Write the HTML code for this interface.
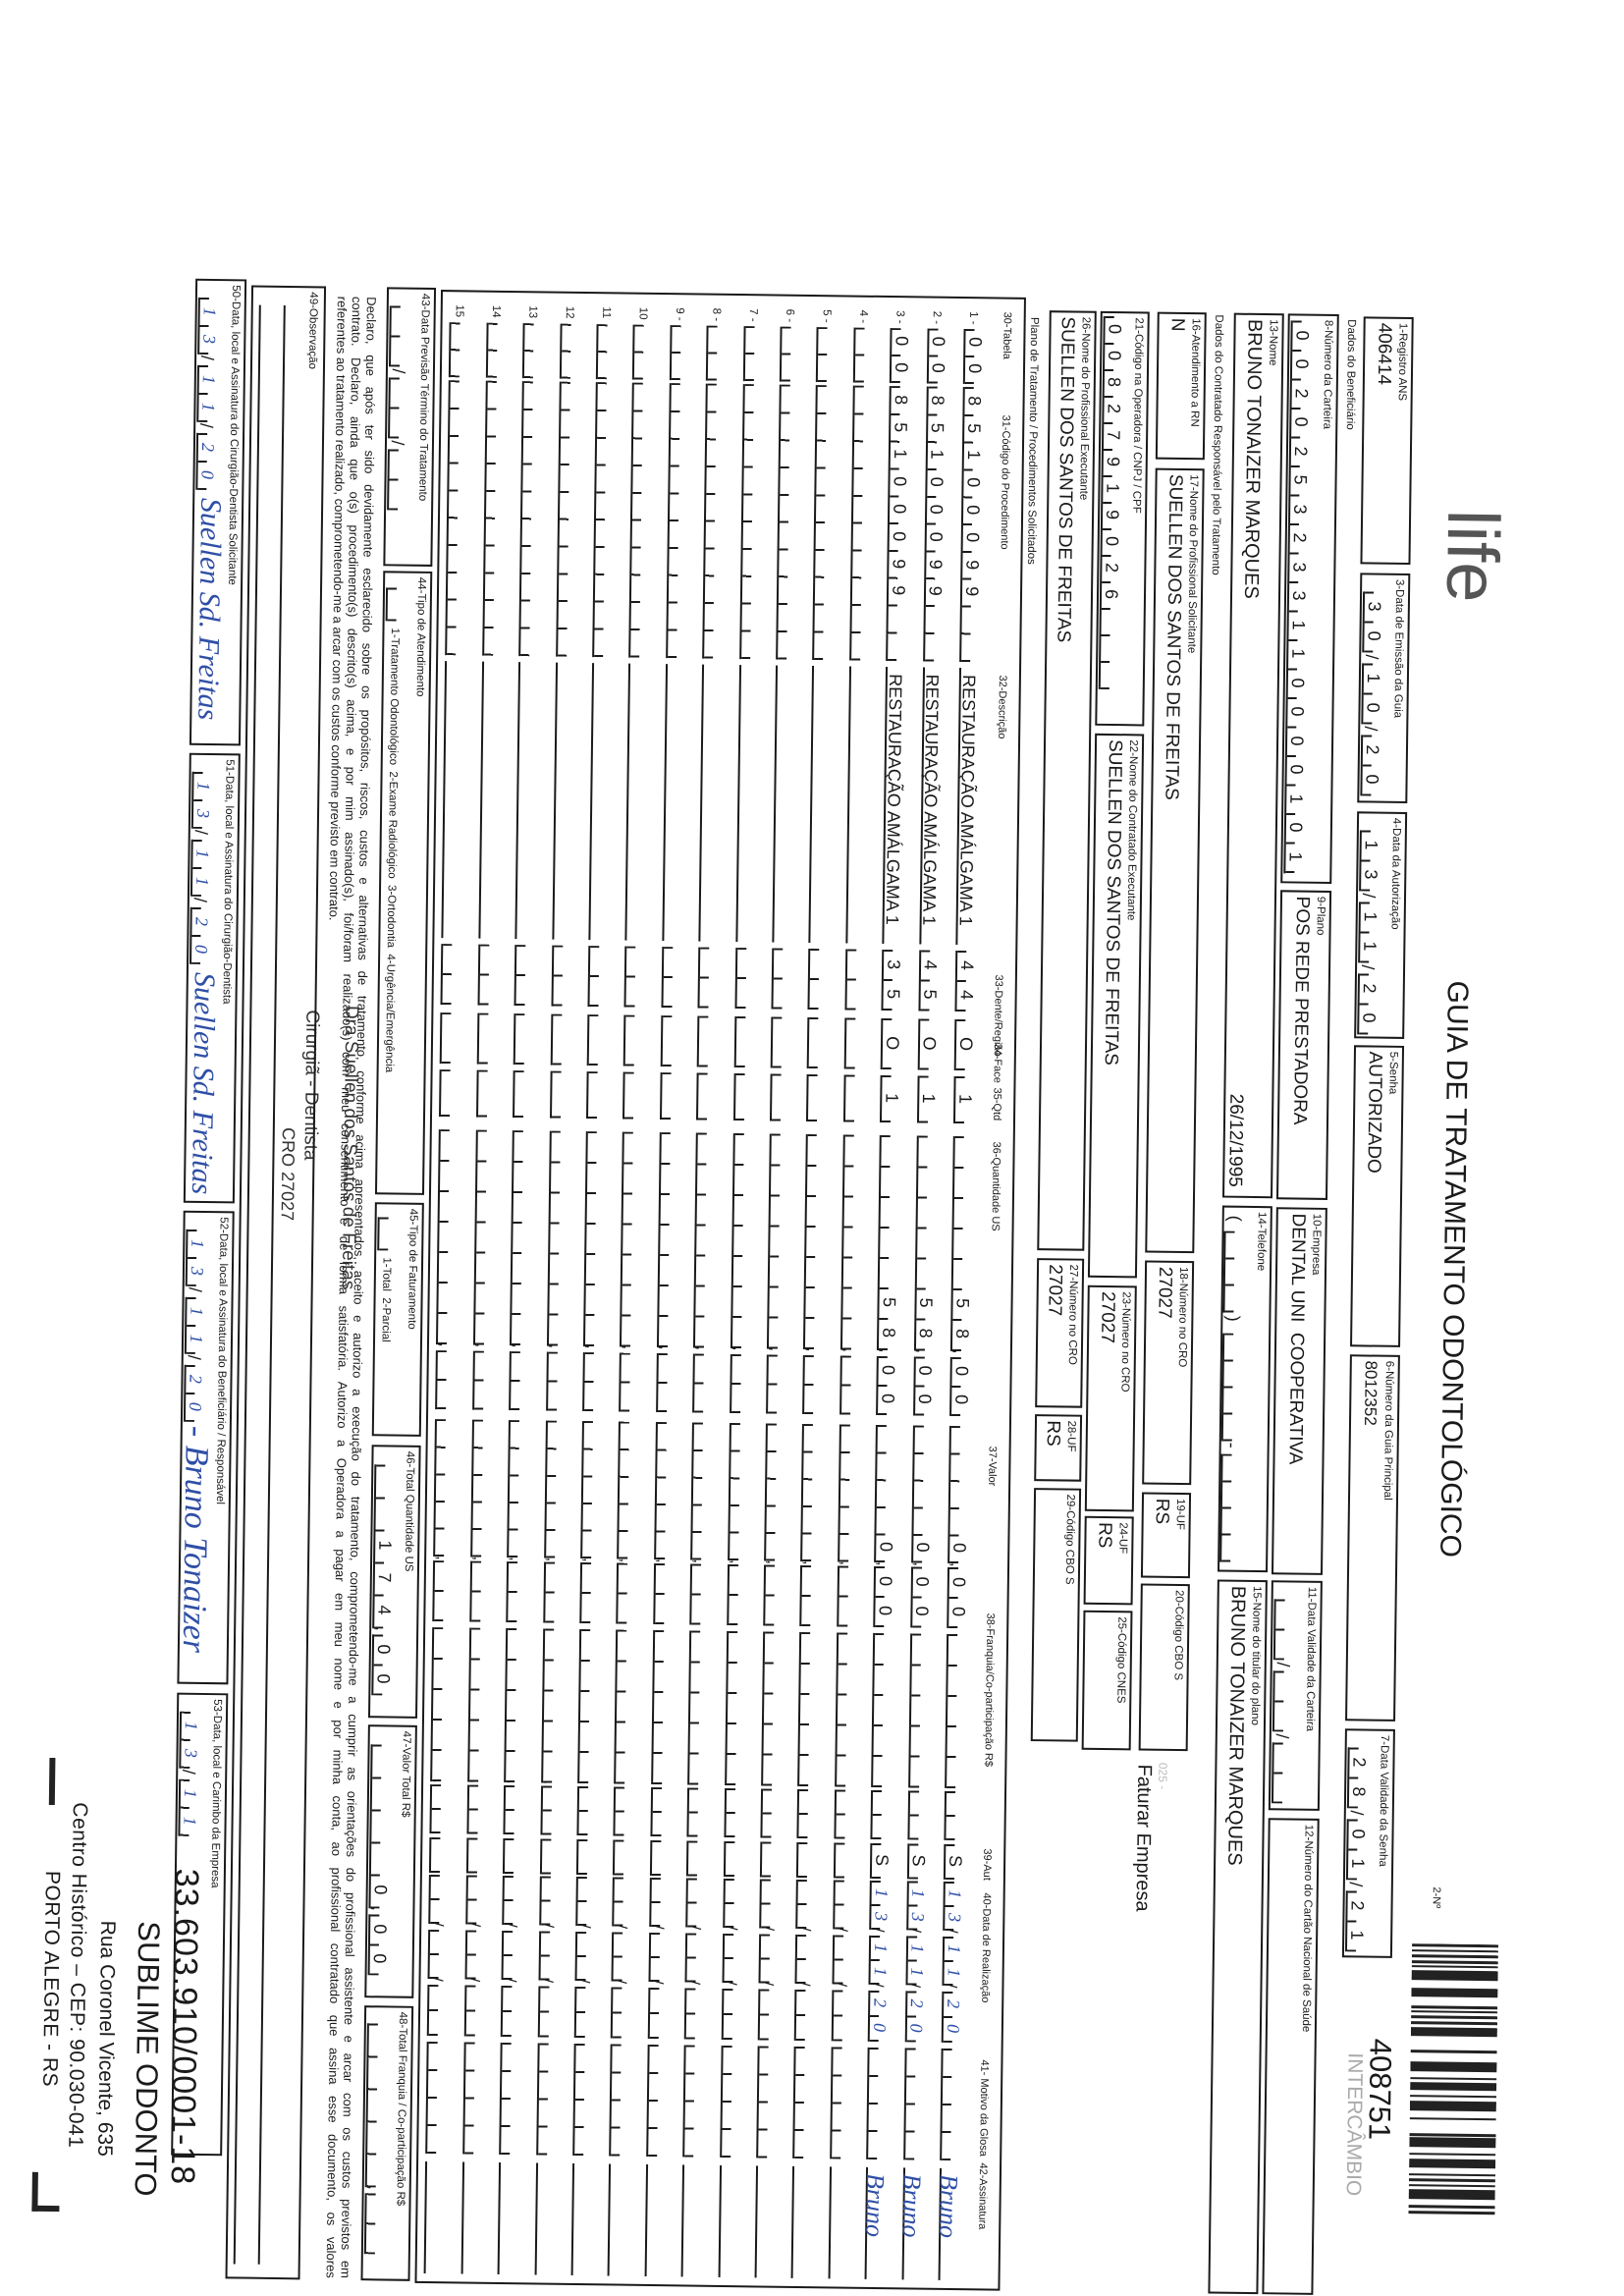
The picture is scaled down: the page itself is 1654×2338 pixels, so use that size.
<!DOCTYPE html>
<html><head><meta charset="utf-8"><style>
html,body{margin:0;padding:0;width:1654px;height:2338px;overflow:hidden;background:#fff}
body{font-family:"Liberation Sans",Arial,sans-serif;color:#1a1a1a}
#clip{position:relative;width:1654px;height:2338px;overflow:hidden;background:#fff}
#w{position:absolute;left:0;top:0;width:1654px;height:2338px;transform:rotate(0.75deg);transform-origin:827px 300px}
.v{position:absolute;writing-mode:vertical-rl;white-space:nowrap;line-height:1}
.b{position:absolute;border:2px solid #1a1a1a;box-sizing:border-box;writing-mode:vertical-rl;padding:4px 2px;white-space:nowrap;overflow:hidden}
.l{font-size:11.5px;line-height:14px}
.val{font-size:19px;line-height:24px}
.nar{font-family:"Liberation Sans Narrow","Liberation Sans",sans-serif}
.cb{position:absolute;width:20px;border-left:2px solid #1a1a1a;writing-mode:horizontal-tb;background:repeating-linear-gradient(to bottom,#1a1a1a 0 2px,transparent 2px var(--c)) 0 0/9px 100% no-repeat;overflow:hidden}
.cb i{display:block;height:var(--c);writing-mode:vertical-rl;text-align:center;font-style:normal;font-size:18px;line-height:20px;width:20px}
.cb i.h,.hw{color:#2f4fa6;font-family:"Liberation Serif",serif;font-style:italic}
.r{position:absolute;top:0;width:22px;height:2330px}
.n{top:315px;left:3px;font-size:11.5px}
.t{top:333px;--c:27px;height:56px}
.k{top:392px;--c:27.8px;height:280px}
.ds{position:absolute;top:678px;height:282px;width:20px;border-left:2px solid #1a1a1a;writing-mode:vertical-rl;font-size:18px;line-height:20px;padding-top:7px;box-sizing:border-box;white-space:nowrap}
.dn{top:966px;--c:30px;height:62px}
.fc{top:1036px;--c:50px;height:52px}
.q{top:1094px;--c:46px;height:48px}
.u1{top:1155px;--c:31px;height:219px}
.u2{top:1380px;--c:29px;height:60px}
.w1{top:1450px;--c:27.6px;height:140px}
.w2{top:1594px;--c:30px;height:62px}
.f1{top:1662px;--c:31px;height:157px}
.f2{top:1822px;--c:24px;height:50px}
.au{top:1876px;--c:34px;height:36px}
.e1{top:1914px;--c:24px;height:50px}
.e2{top:1970px;--c:24px;height:50px}
.e3{top:2026px;--c:25px;height:52px}
.mo{top:2084px;--c:28px;height:114px}
.sg{position:absolute;top:2206px;height:114px;left:0;width:2px;background:#1a1a1a}
.cm{left:0;font-size:16px}
.c1{top:1372px}.c2{top:1589px}.c3{top:1816px}.c4{top:1962px}.c5{top:2018px}
.hd{font-size:11px}
.sl{font-size:18px}
.a{position:absolute}
</style></head><body><div id="clip"><div id="w">

<div class="v" style="left:1466px;top:510px;font-size:74px;color:#555;font-family:'Liberation Sans Narrow','Liberation Sans',sans-serif">life</div>
<div class="v" style="left:1478px;top:990px;font-size:30px">GUIA DE TRATAMENTO ODONTOLÓGICO</div>
<div class="v" style="left:1478px;top:1913px;font-size:11px">2-Nº</div>
<svg style="position:absolute;left:1460px;top:1971px" width="88" height="278"><g fill="#222">
<rect y="0" width="88" height="3"/><rect y="6" width="88" height="2"/><rect y="11" width="88" height="3"/><rect y="17" width="88" height="3"/><rect y="22" width="88" height="2"/><rect y="27" width="88" height="10"/><rect y="45" width="88" height="9"/><rect y="63" width="88" height="3"/><rect y="68" width="88" height="2"/><rect y="73" width="88" height="3"/><rect y="79" width="88" height="3"/><rect y="85" width="88" height="9"/><rect y="108" width="88" height="3"/><rect y="120" width="88" height="10"/><rect y="136" width="88" height="2"/><rect y="141" width="88" height="8"/><rect y="154" width="88" height="2"/><rect y="160" width="88" height="10"/><rect y="177" width="88" height="2"/><rect y="193" width="88" height="3"/><rect y="197" width="88" height="10"/><rect y="213" width="88" height="2"/><rect y="219" width="88" height="9"/><rect y="234" width="88" height="2"/><rect y="239" width="88" height="3"/><rect y="245" width="88" height="2"/><rect y="250" width="88" height="10"/><rect y="266" width="88" height="3"/><rect y="272" width="88" height="3"/></g></svg>
<div class="v" style="left:1414px;top:2068px;font-size:31px">408751</div>
<div class="v" style="left:1393px;top:2083px;font-size:21px;color:#aaa;font-family:'Liberation Sans Narrow','Liberation Sans',sans-serif">INTERCÂMBIO</div>

<div class="b" style="left:1389px;top:315px;width:51px;height:252px"><div class="l">1-Registro ANS</div><div class="val">406414</div></div>
<div class="b" style="left:1389px;top:576px;width:51px;height:234px"><div class="l">3-Data de Emissão da Guia</div></div>
<div class="b" style="left:1389px;top:819px;width:51px;height:231px"><div class="l">4-Data da Autorização</div></div>
<div class="b" style="left:1389px;top:1057px;width:51px;height:307px"><div class="l">5-Senha</div><div class="val">AUTORIZADO</div></div>
<div class="b" style="left:1389px;top:1372px;width:51px;height:373px"><div class="l">6-Número da Guia Principal</div><div class="val" style="font-size:17px">8012352</div></div>
<div class="b" style="left:1389px;top:1753px;width:51px;height:233px"><div class="l">7-Data Validade da Senha</div></div>
<div class="v" style="left:1370px;top:318px;font-size:11.5px">Dados do Beneficiário</div>

<div class="cb" style="left:1392px;top:595px;--c:30px;height:62px"><i>3</i><i>0</i></div><span class="v sl" style="left:1393px;top:659px">/</span>
<div class="cb" style="left:1392px;top:668px;--c:30px;height:62px"><i>1</i><i>0</i></div><span class="v sl" style="left:1393px;top:732px">/</span>
<div class="cb" style="left:1392px;top:741px;--c:30px;height:62px"><i>2</i><i>0</i></div>
<div class="cb" style="left:1392px;top:838px;--c:30px;height:62px"><i>1</i><i>3</i></div><span class="v sl" style="left:1393px;top:902px">/</span>
<div class="cb" style="left:1392px;top:911px;--c:30px;height:62px"><i>1</i><i>1</i></div><span class="v sl" style="left:1393px;top:975px">/</span>
<div class="cb" style="left:1392px;top:984px;--c:30px;height:62px"><i>2</i><i>0</i></div>
<div class="cb" style="left:1392px;top:1772px;--c:30px;height:62px"><i>2</i><i>8</i></div><span class="v sl" style="left:1393px;top:1836px">/</span>
<div class="cb" style="left:1392px;top:1845px;--c:30px;height:62px"><i>0</i><i>1</i></div><span class="v sl" style="left:1393px;top:1909px">/</span>
<div class="cb" style="left:1392px;top:1918px;--c:30px;height:62px"><i>2</i><i>1</i></div>

<div class="b" style="left:1312px;top:313px;width:52px;height:580px"><div class="l">8-Número da Carteira</div></div>
<div class="cb" style="left:1315px;top:320px;--c:29.5px;height:563px"><i>0</i><i>0</i><i>2</i><i>0</i><i>2</i><i>5</i><i>3</i><i>2</i><i>3</i><i>3</i><i>1</i><i>1</i><i>0</i><i>0</i><i>0</i><i>0</i><i>1</i><i>0</i><i>1</i></div>
<div class="b" style="left:1312px;top:900px;width:52px;height:315px"><div class="l">9-Plano</div><div class="val">POS REDE PRESTADORA</div></div>
<div class="b" style="left:1312px;top:1223px;width:52px;height:374px"><div class="l">10-Empresa</div><div class="val">DENTAL UNI&nbsp; COOPERATIVA</div></div>
<div class="b" style="left:1312px;top:1603px;width:52px;height:234px"><div class="l">11-Data Validade da Carteira</div></div>
<div class="cb" style="left:1315px;top:1622px;--c:30px;height:62px"></div><span class="v sl" style="left:1316px;top:1686px">/</span>
<div class="cb" style="left:1315px;top:1695px;--c:30px;height:62px"></div><span class="v sl" style="left:1316px;top:1759px">/</span>
<div class="cb" style="left:1315px;top:1768px;--c:30px;height:62px"></div>
<div class="b" style="left:1312px;top:1845px;width:52px;height:485px"><div class="l">12-Número do Cartão Nacional de Saúde</div></div>

<div class="b" style="left:1257px;top:313px;width:51px;height:901px"><div class="l">13-Nome</div><div class="val nar" style="font-size:20px">BRUNO TONAIZER MARQUES</div></div>
<div class="v" style="left:1260px;top:1108px;font-size:19px">26/12/1995</div>
<div class="b" style="left:1257px;top:1222px;width:51px;height:373px"><div class="l">14-Telefone</div></div>
<span class="v sl" style="left:1261px;top:1232px">(</span>
<div class="cb" style="left:1259px;top:1248px;--c:27px;height:83px"></div><span class="v sl" style="left:1261px;top:1334px">)</span>
<div class="cb" style="left:1259px;top:1352px;--c:27px;height:110px"></div><span class="v sl" style="left:1261px;top:1463px">-</span>
<div class="cb" style="left:1259px;top:1475px;--c:27px;height:110px"></div>
<div class="b" style="left:1257px;top:1603px;width:51px;height:727px"><div class="l">15-Nome do titular do plano</div><div class="val nar" style="font-size:20px">BRUNO TONAIZER MARQUES</div></div>
<div class="v" style="left:1235px;top:315px;font-size:11.5px">Dados do Contratado Responsável pelo Tratamento</div>

<div class="b" style="left:1179px;top:313px;width:50px;height:150px"><div class="l">16-Atendimento a RN</div><div class="val">N</div></div>
<div class="b" style="left:1179px;top:472px;width:50px;height:799px"><div class="l">17-Nome do Profissional Solicitante</div><div class="val">SUELLEN DOS SANTOS DE FREITAS</div></div>
<div class="b" style="left:1179px;top:1279px;width:50px;height:228px"><div class="l">18-Número no CRO</div><div class="val">27027</div></div>
<div class="b" style="left:1179px;top:1515px;width:50px;height:87px"><div class="l">19-UF</div><div class="val">RS</div></div>
<div class="b" style="left:1179px;top:1608px;width:50px;height:170px"><div class="l">20-Código CBO S</div></div>
<div class="v" style="left:1198px;top:1790px;font-size:12px;color:#bbb">025 -</div>
<div class="v" style="left:1175px;top:1792px;font-size:20px">Faturar Empresa</div>

<div class="b" style="left:1121px;top:313px;width:50px;height:422px"><div class="l">21-Código na Operadora / CNPJ / CPF</div></div>
<div class="cb" style="left:1124px;top:318px;--c:27px;height:380px"><i>0</i><i>0</i><i>8</i><i>2</i><i>7</i><i>9</i><i>1</i><i>9</i><i>0</i><i>2</i><i>6</i></div>
<div class="b" style="left:1121px;top:743px;width:50px;height:554px"><div class="l">22-Nome do Contratado Executante</div><div class="val">SUELLEN DOS SANTOS DE FREITAS</div></div>
<div class="b" style="left:1121px;top:1305px;width:50px;height:230px"><div class="l">23-Número no CRO</div><div class="val">27027</div></div>
<div class="b" style="left:1121px;top:1540px;width:50px;height:90px"><div class="l">24-UF</div><div class="val">RS</div></div>
<div class="b" style="left:1121px;top:1636px;width:50px;height:142px"><div class="l">25-Código CNES</div></div>

<div class="b" style="left:1069px;top:313px;width:48px;height:957px"><div class="l">26-Nome do Profissional Executante</div><div class="val">SUELLEN DOS SANTOS DE FREITAS</div></div>
<div class="b" style="left:1069px;top:1278px;width:48px;height:152px"><div class="l">27-Número no CRO</div><div class="val">27027</div></div>
<div class="b" style="left:1069px;top:1437px;width:48px;height:68px"><div class="l">28-UF</div><div class="val">RS</div></div>
<div class="b" style="left:1069px;top:1512px;width:48px;height:258px"><div class="l">29-Código CBO S</div></div>
<div class="v" style="left:1047px;top:320px;font-size:11.5px">Plano de Tratamento / Procedimentos Solicitados</div>

<div style="position:absolute;left:449px;top:300px;width:596px;height:2030px;border:2px solid #1a1a1a;box-sizing:border-box"></div>
<span class="v hd" style="left:1020px;top:315px">30-Tabela</span>
<span class="v hd" style="left:1020px;top:420px">31-Código do Procedimento</span>
<span class="v hd" style="left:1020px;top:685px">32-Descrição</span>
<span class="v hd" style="left:1020px;top:990px">33-Dente/Região</span>
<span class="v hd" style="left:1020px;top:1060px">34-Face</span>
<span class="v hd" style="left:1020px;top:1105px">35-Qtd</span>
<span class="v hd" style="left:1020px;top:1160px">36-Quantidade US</span>
<span class="v hd" style="left:1020px;top:1470px">37-Valor</span>
<span class="v hd" style="left:1020px;top:1640px">38-Franquia/Co-participação R$</span>
<span class="v hd" style="left:1020px;top:1880px">39-Aut</span>
<span class="v hd" style="left:1020px;top:1925px">40-Data de Realização</span>
<span class="v hd" style="left:1020px;top:2095px">41- Motivo da Glosa</span>
<span class="v hd" style="left:1020px;top:2200px">42-Assinatura</span>

<div class="r" style="left:982px"><span class="v n">1 -</span>
<div class="cb t"><i>0</i><i>0</i></div><div class="cb k"><i>8</i><i>5</i><i>1</i><i>0</i><i>0</i><i>0</i><i>9</i><i>9</i></div>
<div class="ds">RESTAURAÇÃO AMÁLGAMA 1</div>
<div class="cb dn"><i>4</i><i>4</i></div><div class="cb fc"><i>O</i></div><div class="cb q"><i>1</i></div>
<div class="cb u1"><i></i><i></i><i></i><i></i><i></i><i>5</i><i>8</i></div><span class="v cm c1">,</span><div class="cb u2"><i>0</i><i>0</i></div>
<div class="cb w1"><i></i><i></i><i></i><i></i><i>0</i></div><span class="v cm c2">,</span><div class="cb w2"><i>0</i><i>0</i></div>
<div class="cb f1"></div><span class="v cm c3">,</span><div class="cb f2"></div>
<div class="cb au"><i>S</i></div>
<div class="cb e1"><i class="h">1</i><i class="h">3</i></div><span class="v cm c4">/</span><div class="cb e2"><i class="h">1</i><i class="h">1</i></div><span class="v cm c5">/</span><div class="cb e3"><i class="h">2</i><i class="h">0</i></div>
<div class="cb mo"></div><div class="sg"></div><span class="v hw" style="top:2212px;left:-4px;font-size:26px">Bruno</span></div>

<div class="r" style="left:944.6px"><span class="v n">2 -</span>
<div class="cb t"><i>0</i><i>0</i></div><div class="cb k"><i>8</i><i>5</i><i>1</i><i>0</i><i>0</i><i>0</i><i>9</i><i>9</i></div>
<div class="ds">RESTAURAÇÃO AMÁLGAMA 1</div>
<div class="cb dn"><i>4</i><i>5</i></div><div class="cb fc"><i>O</i></div><div class="cb q"><i>1</i></div>
<div class="cb u1"><i></i><i></i><i></i><i></i><i></i><i>5</i><i>8</i></div><span class="v cm c1">,</span><div class="cb u2"><i>0</i><i>0</i></div>
<div class="cb w1"><i></i><i></i><i></i><i></i><i>0</i></div><span class="v cm c2">,</span><div class="cb w2"><i>0</i><i>0</i></div>
<div class="cb f1"></div><span class="v cm c3">,</span><div class="cb f2"></div>
<div class="cb au"><i>S</i></div>
<div class="cb e1"><i class="h">1</i><i class="h">3</i></div><span class="v cm c4">/</span><div class="cb e2"><i class="h">1</i><i class="h">1</i></div><span class="v cm c5">/</span><div class="cb e3"><i class="h">2</i><i class="h">0</i></div>
<div class="cb mo"></div><div class="sg"></div><span class="v hw" style="top:2212px;left:-4px;font-size:26px">Bruno</span></div>

<div class="r" style="left:907.2px"><span class="v n">3 -</span>
<div class="cb t"><i>0</i><i>0</i></div><div class="cb k"><i>8</i><i>5</i><i>1</i><i>0</i><i>0</i><i>0</i><i>9</i><i>9</i></div>
<div class="ds">RESTAURAÇÃO AMÁLGAMA 1</div>
<div class="cb dn"><i>3</i><i>5</i></div><div class="cb fc"><i>O</i></div><div class="cb q"><i>1</i></div>
<div class="cb u1"><i></i><i></i><i></i><i></i><i></i><i>5</i><i>8</i></div><span class="v cm c1">,</span><div class="cb u2"><i>0</i><i>0</i></div>
<div class="cb w1"><i></i><i></i><i></i><i></i><i>0</i></div><span class="v cm c2">,</span><div class="cb w2"><i>0</i><i>0</i></div>
<div class="cb f1"></div><span class="v cm c3">,</span><div class="cb f2"></div>
<div class="cb au"><i>S</i></div>
<div class="cb e1"><i class="h">1</i><i class="h">3</i></div><span class="v cm c4">/</span><div class="cb e2"><i class="h">1</i><i class="h">1</i></div><span class="v cm c5">/</span><div class="cb e3"><i class="h">2</i><i class="h">0</i></div>
<div class="cb mo"></div><div class="sg"></div><span class="v hw" style="top:2212px;left:-4px;font-size:26px">Bruno</span></div>

<div class="r" style="left:869.8px"><span class="v n">4 -</span><div class="cb t"></div><div class="cb k"></div><div class="ds"></div><div class="cb dn"></div><div class="cb fc"></div><div class="cb q"></div><div class="cb u1"></div><span class="v cm c1">,</span><div class="cb u2"></div><div class="cb w1"></div><span class="v cm c2">,</span><div class="cb w2"></div><div class="cb f1"></div><span class="v cm c3">,</span><div class="cb f2"></div><div class="cb au"></div><div class="cb e1"></div><span class="v cm c4">/</span><div class="cb e2"></div><span class="v cm c5">/</span><div class="cb e3"></div><div class="cb mo"></div><div class="sg"></div></div>
<div class="r" style="left:832.4px"><span class="v n">5 -</span><div class="cb t"></div><div class="cb k"></div><div class="ds"></div><div class="cb dn"></div><div class="cb fc"></div><div class="cb q"></div><div class="cb u1"></div><span class="v cm c1">,</span><div class="cb u2"></div><div class="cb w1"></div><span class="v cm c2">,</span><div class="cb w2"></div><div class="cb f1"></div><span class="v cm c3">,</span><div class="cb f2"></div><div class="cb au"></div><div class="cb e1"></div><span class="v cm c4">/</span><div class="cb e2"></div><span class="v cm c5">/</span><div class="cb e3"></div><div class="cb mo"></div><div class="sg"></div></div>
<div class="r" style="left:795px"><span class="v n">6 -</span><div class="cb t"></div><div class="cb k"></div><div class="ds"></div><div class="cb dn"></div><div class="cb fc"></div><div class="cb q"></div><div class="cb u1"></div><span class="v cm c1">,</span><div class="cb u2"></div><div class="cb w1"></div><span class="v cm c2">,</span><div class="cb w2"></div><div class="cb f1"></div><span class="v cm c3">,</span><div class="cb f2"></div><div class="cb au"></div><div class="cb e1"></div><span class="v cm c4">/</span><div class="cb e2"></div><span class="v cm c5">/</span><div class="cb e3"></div><div class="cb mo"></div><div class="sg"></div></div>
<div class="r" style="left:757.6px"><span class="v n">7 -</span><div class="cb t"></div><div class="cb k"></div><div class="ds"></div><div class="cb dn"></div><div class="cb fc"></div><div class="cb q"></div><div class="cb u1"></div><span class="v cm c1">,</span><div class="cb u2"></div><div class="cb w1"></div><span class="v cm c2">,</span><div class="cb w2"></div><div class="cb f1"></div><span class="v cm c3">,</span><div class="cb f2"></div><div class="cb au"></div><div class="cb e1"></div><span class="v cm c4">/</span><div class="cb e2"></div><span class="v cm c5">/</span><div class="cb e3"></div><div class="cb mo"></div><div class="sg"></div></div>
<div class="r" style="left:720.2px"><span class="v n">8 -</span><div class="cb t"></div><div class="cb k"></div><div class="ds"></div><div class="cb dn"></div><div class="cb fc"></div><div class="cb q"></div><div class="cb u1"></div><span class="v cm c1">,</span><div class="cb u2"></div><div class="cb w1"></div><span class="v cm c2">,</span><div class="cb w2"></div><div class="cb f1"></div><span class="v cm c3">,</span><div class="cb f2"></div><div class="cb au"></div><div class="cb e1"></div><span class="v cm c4">/</span><div class="cb e2"></div><span class="v cm c5">/</span><div class="cb e3"></div><div class="cb mo"></div><div class="sg"></div></div>
<div class="r" style="left:682.8px"><span class="v n">9 -</span><div class="cb t"></div><div class="cb k"></div><div class="ds"></div><div class="cb dn"></div><div class="cb fc"></div><div class="cb q"></div><div class="cb u1"></div><span class="v cm c1">,</span><div class="cb u2"></div><div class="cb w1"></div><span class="v cm c2">,</span><div class="cb w2"></div><div class="cb f1"></div><span class="v cm c3">,</span><div class="cb f2"></div><div class="cb au"></div><div class="cb e1"></div><span class="v cm c4">/</span><div class="cb e2"></div><span class="v cm c5">/</span><div class="cb e3"></div><div class="cb mo"></div><div class="sg"></div></div>
<div class="r" style="left:645.4px"><span class="v n">10</span><div class="cb t"></div><div class="cb k"></div><div class="ds"></div><div class="cb dn"></div><div class="cb fc"></div><div class="cb q"></div><div class="cb u1"></div><span class="v cm c1">,</span><div class="cb u2"></div><div class="cb w1"></div><span class="v cm c2">,</span><div class="cb w2"></div><div class="cb f1"></div><span class="v cm c3">,</span><div class="cb f2"></div><div class="cb au"></div><div class="cb e1"></div><span class="v cm c4">/</span><div class="cb e2"></div><span class="v cm c5">/</span><div class="cb e3"></div><div class="cb mo"></div><div class="sg"></div></div>
<div class="r" style="left:608px"><span class="v n">11</span><div class="cb t"></div><div class="cb k"></div><div class="ds"></div><div class="cb dn"></div><div class="cb fc"></div><div class="cb q"></div><div class="cb u1"></div><span class="v cm c1">,</span><div class="cb u2"></div><div class="cb w1"></div><span class="v cm c2">,</span><div class="cb w2"></div><div class="cb f1"></div><span class="v cm c3">,</span><div class="cb f2"></div><div class="cb au"></div><div class="cb e1"></div><span class="v cm c4">/</span><div class="cb e2"></div><span class="v cm c5">/</span><div class="cb e3"></div><div class="cb mo"></div><div class="sg"></div></div>
<div class="r" style="left:570.6px"><span class="v n">12</span><div class="cb t"></div><div class="cb k"></div><div class="ds"></div><div class="cb dn"></div><div class="cb fc"></div><div class="cb q"></div><div class="cb u1"></div><span class="v cm c1">,</span><div class="cb u2"></div><div class="cb w1"></div><span class="v cm c2">,</span><div class="cb w2"></div><div class="cb f1"></div><span class="v cm c3">,</span><div class="cb f2"></div><div class="cb au"></div><div class="cb e1"></div><span class="v cm c4">/</span><div class="cb e2"></div><span class="v cm c5">/</span><div class="cb e3"></div><div class="cb mo"></div><div class="sg"></div></div>
<div class="r" style="left:533.2px"><span class="v n">13</span><div class="cb t"></div><div class="cb k"></div><div class="ds"></div><div class="cb dn"></div><div class="cb fc"></div><div class="cb q"></div><div class="cb u1"></div><span class="v cm c1">,</span><div class="cb u2"></div><div class="cb w1"></div><span class="v cm c2">,</span><div class="cb w2"></div><div class="cb f1"></div><span class="v cm c3">,</span><div class="cb f2"></div><div class="cb au"></div><div class="cb e1"></div><span class="v cm c4">/</span><div class="cb e2"></div><span class="v cm c5">/</span><div class="cb e3"></div><div class="cb mo"></div><div class="sg"></div></div>
<div class="r" style="left:495.8px"><span class="v n">14</span><div class="cb t"></div><div class="cb k"></div><div class="ds"></div><div class="cb dn"></div><div class="cb fc"></div><div class="cb q"></div><div class="cb u1"></div><span class="v cm c1">,</span><div class="cb u2"></div><div class="cb w1"></div><span class="v cm c2">,</span><div class="cb w2"></div><div class="cb f1"></div><span class="v cm c3">,</span><div class="cb f2"></div><div class="cb au"></div><div class="cb e1"></div><span class="v cm c4">/</span><div class="cb e2"></div><span class="v cm c5">/</span><div class="cb e3"></div><div class="cb mo"></div><div class="sg"></div></div>
<div class="r" style="left:458.4px"><span class="v n">15</span><div class="cb t"></div><div class="cb k"></div><div class="ds"></div><div class="cb dn"></div><div class="cb fc"></div><div class="cb q"></div><div class="cb u1"></div><span class="v cm c1">,</span><div class="cb u2"></div><div class="cb w1"></div><span class="v cm c2">,</span><div class="cb w2"></div><div class="cb f1"></div><span class="v cm c3">,</span><div class="cb f2"></div><div class="cb au"></div><div class="cb e1"></div><span class="v cm c4">/</span><div class="cb e2"></div><span class="v cm c5">/</span><div class="cb e3"></div><div class="cb mo"></div><div class="sg"></div></div>

<div class="b" style="left:394px;top:298px;width:50px;height:284px"><div class="l">43-Data Previsão Término do Tratamento</div></div>
<div class="cb" style="left:397px;top:317px;--c:30px;height:62px"></div><span class="v sl" style="left:398px;top:381px">/</span>
<div class="cb" style="left:397px;top:390px;--c:30px;height:62px"></div><span class="v sl" style="left:398px;top:454px">/</span>
<div class="cb" style="left:397px;top:463px;--c:30px;height:62px"></div>
<div class="b" style="left:394px;top:587px;width:50px;height:635px"><div class="l">44-Tipo de Atendimento</div></div>
<div class="cb" style="left:397px;top:604px;--c:32px;height:34px"></div>
<div class="v" style="left:400px;top:645px;font-size:11.5px">1-Tratamento Odontológico&nbsp; 2-Exame Radiológico&nbsp; 3-Ortodontia&nbsp; 4-Urgência/Emergência</div>
<div class="b" style="left:394px;top:1230px;width:50px;height:238px"><div class="l">45-Tipo de Faturamento</div></div>
<div class="cb" style="left:397px;top:1245px;--c:32px;height:34px"></div>
<div class="v" style="left:400px;top:1286px;font-size:11.5px">1-Total&nbsp; 2-Parcial</div>
<div class="b" style="left:394px;top:1477px;width:50px;height:278px"><div class="l">46-Total Quantidade US</div></div>
<div class="cb" style="left:397px;top:1497px;--c:33px;height:167px"><i></i><i></i><i>1</i><i>7</i><i>4</i></div><span class="v cm" style="left:397px;top:1662px">,</span>
<div class="cb" style="left:397px;top:1670px;--c:30px;height:62px"><i>0</i><i>0</i></div>
<div class="b" style="left:394px;top:1762px;width:50px;height:278px"><div class="l">47-Valor Total R$</div></div>
<div class="cb" style="left:397px;top:1782px;--c:33px;height:167px"><i></i><i></i><i></i><i></i><i>0</i></div><span class="v cm" style="left:397px;top:1947px">,</span>
<div class="cb" style="left:397px;top:1955px;--c:30px;height:62px"><i>0</i><i>0</i></div>
<div class="b" style="left:394px;top:2048px;width:50px;height:280px"><div class="l">48-Total Franquia / Co-participação R$</div></div>
<div class="cb" style="left:397px;top:2066px;--c:33px;height:167px"></div><span class="v cm" style="left:397px;top:2231px">,</span>
<div class="cb" style="left:397px;top:2239px;--c:30px;height:62px"></div>

<div class="v" style="left:371px;top:308px;height:2018px;font-size:13px;line-height:14px;text-align:justify;text-align-last:justify">Declaro, que após ter sido devidamente esclarecido sobre os propósitos, riscos, custos e alternativas de tratamento, conforme acima apresentados, aceito e autorizo a execução do tratamento, comprometendo-me a cumprir as orientações do profissional assistente e arcar com os custos previstos em</div>
<div class="v" style="left:356px;top:308px;height:2018px;font-size:13px;line-height:14px;text-align:justify;text-align-last:justify">contrato. Declaro, ainda que o(s) procedimento(s) descrito(s) acima, e por mim assinado(s), foi/foram realizado(s) com meu consentimento e de forma satisfatória. Autorizo a Operadora a pagar em meu nome e por minha conta, ao profissional contratado que assina esse documento, os valores</div>
<div class="v" style="left:341px;top:308px;font-size:13px;line-height:14px">referentes ao tratamento realizado, comprometendo-me a arcar com os custos conforme previsto em contrato.</div>

<div class="v" style="left:358px;top:1030px;font-size:19px;color:#333;font-family:'Liberation Sans Narrow','Liberation Sans',sans-serif">Dra Suellen dos Santos de Freitas</div>
<div class="v" style="left:318px;top:1035px;font-size:19px;color:#333;font-family:'Liberation Sans Narrow','Liberation Sans',sans-serif">Cirurgiã - Dentista</div>
<div class="v" style="left:296px;top:1155px;font-size:18px;color:#333;font-family:'Liberation Sans Narrow','Liberation Sans',sans-serif">CRO 27027</div>

<div class="b" style="left:256px;top:298px;width:76px;height:2030px"><div class="l" style="padding-right:2px">49-Observação</div></div>
<div class="a" style="left:264px;top:318px;width:2px;height:1995px;background:#1a1a1a"></div>
<div class="a" style="left:289px;top:318px;width:2px;height:1995px;background:#1a1a1a"></div>

<div class="b" style="left:199px;top:292px;width:52px;height:475px"><div class="l">50-Data, local e Assinatura do Cirurgião-Dentista Solicitante</div></div>
<div class="b" style="left:199px;top:775px;width:52px;height:458px"><div class="l">51-Data, local e Assinatura do Cirurgião-Dentista</div></div>
<div class="b" style="left:199px;top:1241px;width:52px;height:482px"><div class="l">52-Data, local e Assinatura do Beneficiário / Responsável</div></div>
<div class="b" style="left:199px;top:1732px;width:52px;height:471px"><div class="l">53-Data, local e Carimbo da Empresa</div></div>

<div class="cb" style="left:202px;top:311px;--c:28px;height:58px"><i class="h">1</i><i class="h">3</i></div><span class="v sl" style="left:203px;top:370px">/</span>
<div class="cb" style="left:202px;top:380px;--c:28px;height:58px"><i class="h">1</i><i class="h">1</i></div><span class="v sl" style="left:203px;top:439px">/</span>
<div class="cb" style="left:202px;top:449px;--c:28px;height:58px"><i class="h">2</i><i class="h">0</i></div>
<div class="v hw" style="left:202px;top:515px;font-size:30px">Suellen Sd. Freitas</div>

<div class="cb" style="left:202px;top:794px;--c:28px;height:58px"><i class="h">1</i><i class="h">3</i></div><span class="v sl" style="left:203px;top:853px">/</span>
<div class="cb" style="left:202px;top:863px;--c:28px;height:58px"><i class="h">1</i><i class="h">1</i></div><span class="v sl" style="left:203px;top:922px">/</span>
<div class="cb" style="left:202px;top:932px;--c:28px;height:58px"><i class="h">2</i><i class="h">0</i></div>
<div class="v hw" style="left:202px;top:998px;font-size:30px">Suellen Sd. Freitas</div>

<div class="cb" style="left:202px;top:1260px;--c:28px;height:58px"><i class="h">1</i><i class="h">3</i></div><span class="v sl" style="left:203px;top:1319px">/</span>
<div class="cb" style="left:202px;top:1329px;--c:28px;height:58px"><i class="h">1</i><i class="h">1</i></div><span class="v sl" style="left:203px;top:1388px">/</span>
<div class="cb" style="left:202px;top:1398px;--c:28px;height:58px"><i class="h">2</i><i class="h">0</i></div>
<div class="v hw" style="left:198px;top:1460px;font-size:34px">- Bruno Tonaizer</div>

<div class="cb" style="left:202px;top:1751px;--c:28px;height:58px"><i class="h">1</i><i class="h">3</i></div><span class="v sl" style="left:203px;top:1810px">/</span>
<div class="cb" style="left:202px;top:1820px;--c:28px;height:58px"><i class="h">1</i><i class="h">1</i></div>

<div class="v" style="left:194px;top:1911px;font-size:34px;font-family:'Liberation Sans Narrow','Liberation Sans',sans-serif;letter-spacing:1px">33.603.910/0001-18</div>
<div class="v" style="left:158px;top:1965px;font-size:31px;font-family:'Liberation Sans Narrow','Liberation Sans',sans-serif">SUBLIME ODONTO</div>
<div class="v" style="left:121px;top:1965px;font-size:21px;font-family:'Liberation Sans Narrow','Liberation Sans',sans-serif">Rua Coronel Vicente, 635</div>
<div class="v" style="left:91px;top:1845px;font-size:21px;font-family:'Liberation Sans Narrow','Liberation Sans',sans-serif;letter-spacing:0.5px">Centro Histórico – CEP: 90.030-041</div>
<div class="v" style="left:64px;top:1915px;font-size:21px;font-family:'Liberation Sans Narrow','Liberation Sans',sans-serif;letter-spacing:0.5px">PORTO ALEGRE - RS</div>

<div class="a" style="left:70px;top:1800px;width:6px;height:48px;background:#222"></div>
<div class="a" style="left:58px;top:2222px;width:6px;height:40px;background:#222"></div>
<div class="a" style="left:58px;top:2256px;width:28px;height:6px;background:#222"></div>

</div></div></body></html>
